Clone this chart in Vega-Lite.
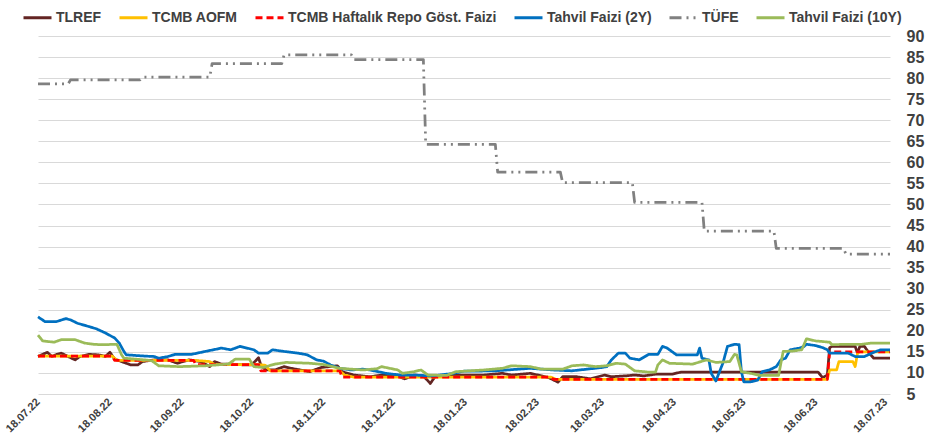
{
  "$schema": "https://vega.github.io/schema/vega-lite/v6.json",
  "width": 852,
  "height": 358,
  "autosize": {"type": "none"},
  "padding": {"left": 38, "top": 36, "right": 38, "bottom": 44},
  "background": "white",
  "config": {
    "view": {"stroke": null},
    "font": "Liberation Sans"
  },
  "datasets": {
    "seriler": [
      {"tarih": "2022-07-18", "seri": "TLREF", "deger": 13.9},
      {"tarih": "2022-07-22", "seri": "TLREF", "deger": 14.9},
      {"tarih": "2022-07-24", "seri": "TLREF", "deger": 13.9},
      {"tarih": "2022-07-26", "seri": "TLREF", "deger": 14.4},
      {"tarih": "2022-07-28", "seri": "TLREF", "deger": 14.7},
      {"tarih": "2022-07-31", "seri": "TLREF", "deger": 13.9},
      {"tarih": "2022-08-03", "seri": "TLREF", "deger": 13.1},
      {"tarih": "2022-08-05", "seri": "TLREF", "deger": 13.9},
      {"tarih": "2022-08-09", "seri": "TLREF", "deger": 14.4},
      {"tarih": "2022-08-13", "seri": "TLREF", "deger": 14.3},
      {"tarih": "2022-08-16", "seri": "TLREF", "deger": 13.9},
      {"tarih": "2022-08-18", "seri": "TLREF", "deger": 14.9},
      {"tarih": "2022-08-20", "seri": "TLREF", "deger": 13.3},
      {"tarih": "2022-08-24", "seri": "TLREF", "deger": 12.5},
      {"tarih": "2022-08-27", "seri": "TLREF", "deger": 11.9},
      {"tarih": "2022-08-30", "seri": "TLREF", "deger": 11.9},
      {"tarih": "2022-09-01", "seri": "TLREF", "deger": 12.7},
      {"tarih": "2022-09-06", "seri": "TLREF", "deger": 13.1},
      {"tarih": "2022-09-12", "seri": "TLREF", "deger": 13.1},
      {"tarih": "2022-09-16", "seri": "TLREF", "deger": 12.3},
      {"tarih": "2022-09-21", "seri": "TLREF", "deger": 13.1},
      {"tarih": "2022-09-26", "seri": "TLREF", "deger": 12.7},
      {"tarih": "2022-09-30", "seri": "TLREF", "deger": 11.5},
      {"tarih": "2022-10-02", "seri": "TLREF", "deger": 12.7},
      {"tarih": "2022-10-05", "seri": "TLREF", "deger": 12.1},
      {"tarih": "2022-10-09", "seri": "TLREF", "deger": 12.1},
      {"tarih": "2022-10-15", "seri": "TLREF", "deger": 11.9},
      {"tarih": "2022-10-18", "seri": "TLREF", "deger": 11.9},
      {"tarih": "2022-10-21", "seri": "TLREF", "deger": 13.6},
      {"tarih": "2022-10-22", "seri": "TLREF", "deger": 11.9},
      {"tarih": "2022-10-24", "seri": "TLREF", "deger": 10.7},
      {"tarih": "2022-10-28", "seri": "TLREF", "deger": 10.7},
      {"tarih": "2022-11-01", "seri": "TLREF", "deger": 11.5},
      {"tarih": "2022-11-04", "seri": "TLREF", "deger": 11.1},
      {"tarih": "2022-11-08", "seri": "TLREF", "deger": 10.7},
      {"tarih": "2022-11-12", "seri": "TLREF", "deger": 10.3},
      {"tarih": "2022-11-17", "seri": "TLREF", "deger": 11.3},
      {"tarih": "2022-11-24", "seri": "TLREF", "deger": 11.7},
      {"tarih": "2022-11-26", "seri": "TLREF", "deger": 10.3},
      {"tarih": "2022-12-01", "seri": "TLREF", "deger": 9.5},
      {"tarih": "2022-12-08", "seri": "TLREF", "deger": 9.1},
      {"tarih": "2022-12-13", "seri": "TLREF", "deger": 9.5},
      {"tarih": "2022-12-19", "seri": "TLREF", "deger": 9.4},
      {"tarih": "2022-12-23", "seri": "TLREF", "deger": 8.6},
      {"tarih": "2022-12-27", "seri": "TLREF", "deger": 9.5},
      {"tarih": "2022-12-31", "seri": "TLREF", "deger": 9.3},
      {"tarih": "2023-01-03", "seri": "TLREF", "deger": 7.5},
      {"tarih": "2023-01-05", "seri": "TLREF", "deger": 9.1},
      {"tarih": "2023-01-10", "seri": "TLREF", "deger": 9.4},
      {"tarih": "2023-01-16", "seri": "TLREF", "deger": 9.5},
      {"tarih": "2023-01-26", "seri": "TLREF", "deger": 9.5},
      {"tarih": "2023-02-03", "seri": "TLREF", "deger": 9.9},
      {"tarih": "2023-02-07", "seri": "TLREF", "deger": 9.5},
      {"tarih": "2023-02-15", "seri": "TLREF", "deger": 9.9},
      {"tarih": "2023-02-20", "seri": "TLREF", "deger": 9.3},
      {"tarih": "2023-02-23", "seri": "TLREF", "deger": 8.9},
      {"tarih": "2023-02-27", "seri": "TLREF", "deger": 7.8},
      {"tarih": "2023-03-01", "seri": "TLREF", "deger": 9.1},
      {"tarih": "2023-03-07", "seri": "TLREF", "deger": 9.1},
      {"tarih": "2023-03-13", "seri": "TLREF", "deger": 8.6},
      {"tarih": "2023-03-19", "seri": "TLREF", "deger": 9.5},
      {"tarih": "2023-03-22", "seri": "TLREF", "deger": 9.1},
      {"tarih": "2023-03-28", "seri": "TLREF", "deger": 9.3},
      {"tarih": "2023-04-01", "seri": "TLREF", "deger": 9.5},
      {"tarih": "2023-04-05", "seri": "TLREF", "deger": 9.3},
      {"tarih": "2023-04-10", "seri": "TLREF", "deger": 9.7},
      {"tarih": "2023-04-17", "seri": "TLREF", "deger": 9.7},
      {"tarih": "2023-04-21", "seri": "TLREF", "deger": 10.2},
      {"tarih": "2023-06-19", "seri": "TLREF", "deger": 10.2},
      {"tarih": "2023-06-21", "seri": "TLREF", "deger": 8.9},
      {"tarih": "2023-06-23", "seri": "TLREF", "deger": 9.5},
      {"tarih": "2023-06-24", "seri": "TLREF", "deger": 16.0},
      {"tarih": "2023-06-25", "seri": "TLREF", "deger": 16.3},
      {"tarih": "2023-07-05", "seri": "TLREF", "deger": 16.3},
      {"tarih": "2023-07-06", "seri": "TLREF", "deger": 14.7},
      {"tarih": "2023-07-07", "seri": "TLREF", "deger": 16.3},
      {"tarih": "2023-07-09", "seri": "TLREF", "deger": 16.3},
      {"tarih": "2023-07-11", "seri": "TLREF", "deger": 14.7},
      {"tarih": "2023-07-13", "seri": "TLREF", "deger": 13.5},
      {"tarih": "2023-07-20", "seri": "TLREF", "deger": 13.5},

      {"tarih": "2022-07-18", "seri": "TCMB AOFM", "deger": 14},
      {"tarih": "2022-08-19", "seri": "TCMB AOFM", "deger": 14},
      {"tarih": "2022-08-21", "seri": "TCMB AOFM", "deger": 13},
      {"tarih": "2022-09-23", "seri": "TCMB AOFM", "deger": 13},
      {"tarih": "2022-09-30", "seri": "TCMB AOFM", "deger": 12.7},
      {"tarih": "2022-10-02", "seri": "TCMB AOFM", "deger": 12},
      {"tarih": "2022-10-21", "seri": "TCMB AOFM", "deger": 12},
      {"tarih": "2022-10-24", "seri": "TCMB AOFM", "deger": 11.8},
      {"tarih": "2022-10-26", "seri": "TCMB AOFM", "deger": 10.5},
      {"tarih": "2022-11-25", "seri": "TCMB AOFM", "deger": 10.5},
      {"tarih": "2022-11-27", "seri": "TCMB AOFM", "deger": 9.5},
      {"tarih": "2022-12-01", "seri": "TCMB AOFM", "deger": 9},
      {"tarih": "2023-02-24", "seri": "TCMB AOFM", "deger": 9},
      {"tarih": "2023-02-26", "seri": "TCMB AOFM", "deger": 8.5},
      {"tarih": "2023-06-23", "seri": "TCMB AOFM", "deger": 8.5},
      {"tarih": "2023-06-24", "seri": "TCMB AOFM", "deger": 10.7},
      {"tarih": "2023-06-27", "seri": "TCMB AOFM", "deger": 10.7},
      {"tarih": "2023-06-28", "seri": "TCMB AOFM", "deger": 12.7},
      {"tarih": "2023-07-04", "seri": "TCMB AOFM", "deger": 12.7},
      {"tarih": "2023-07-05", "seri": "TCMB AOFM", "deger": 11.5},
      {"tarih": "2023-07-06", "seri": "TCMB AOFM", "deger": 14.7},
      {"tarih": "2023-07-07", "seri": "TCMB AOFM", "deger": 15},
      {"tarih": "2023-07-20", "seri": "TCMB AOFM", "deger": 15},

      {"tarih": "2022-07-18", "seri": "TCMB Haftalık Repo Göst. Faizi", "deger": 14},
      {"tarih": "2022-08-19", "seri": "TCMB Haftalık Repo Göst. Faizi", "deger": 14},
      {"tarih": "2022-08-20", "seri": "TCMB Haftalık Repo Göst. Faizi", "deger": 13},
      {"tarih": "2022-09-23", "seri": "TCMB Haftalık Repo Göst. Faizi", "deger": 13},
      {"tarih": "2022-09-24", "seri": "TCMB Haftalık Repo Göst. Faizi", "deger": 12},
      {"tarih": "2022-10-21", "seri": "TCMB Haftalık Repo Göst. Faizi", "deger": 12},
      {"tarih": "2022-10-22", "seri": "TCMB Haftalık Repo Göst. Faizi", "deger": 10.5},
      {"tarih": "2022-11-25", "seri": "TCMB Haftalık Repo Göst. Faizi", "deger": 10.5},
      {"tarih": "2022-11-26", "seri": "TCMB Haftalık Repo Göst. Faizi", "deger": 9},
      {"tarih": "2023-02-24", "seri": "TCMB Haftalık Repo Göst. Faizi", "deger": 9},
      {"tarih": "2023-02-25", "seri": "TCMB Haftalık Repo Göst. Faizi", "deger": 8.5},
      {"tarih": "2023-06-23", "seri": "TCMB Haftalık Repo Göst. Faizi", "deger": 8.5},
      {"tarih": "2023-06-24", "seri": "TCMB Haftalık Repo Göst. Faizi", "deger": 15},
      {"tarih": "2023-07-20", "seri": "TCMB Haftalık Repo Göst. Faizi", "deger": 15},

      {"tarih": "2022-07-18", "seri": "Tahvil Faizi (2Y)", "deger": 23.3},
      {"tarih": "2022-07-21", "seri": "Tahvil Faizi (2Y)", "deger": 22.2},
      {"tarih": "2022-07-26", "seri": "Tahvil Faizi (2Y)", "deger": 22.2},
      {"tarih": "2022-07-30", "seri": "Tahvil Faizi (2Y)", "deger": 22.9},
      {"tarih": "2022-08-01", "seri": "Tahvil Faizi (2Y)", "deger": 22.6},
      {"tarih": "2022-08-04", "seri": "Tahvil Faizi (2Y)", "deger": 21.8},
      {"tarih": "2022-08-09", "seri": "Tahvil Faizi (2Y)", "deger": 21.0},
      {"tarih": "2022-08-12", "seri": "Tahvil Faizi (2Y)", "deger": 20.5},
      {"tarih": "2022-08-16", "seri": "Tahvil Faizi (2Y)", "deger": 19.5},
      {"tarih": "2022-08-20", "seri": "Tahvil Faizi (2Y)", "deger": 18.3},
      {"tarih": "2022-08-22", "seri": "Tahvil Faizi (2Y)", "deger": 17.1},
      {"tarih": "2022-08-24", "seri": "Tahvil Faizi (2Y)", "deger": 15.1},
      {"tarih": "2022-08-25", "seri": "Tahvil Faizi (2Y)", "deger": 14.3},
      {"tarih": "2022-09-02", "seri": "Tahvil Faizi (2Y)", "deger": 14.0},
      {"tarih": "2022-09-06", "seri": "Tahvil Faizi (2Y)", "deger": 13.9},
      {"tarih": "2022-09-08", "seri": "Tahvil Faizi (2Y)", "deger": 13.5},
      {"tarih": "2022-09-12", "seri": "Tahvil Faizi (2Y)", "deger": 13.9},
      {"tarih": "2022-09-15", "seri": "Tahvil Faizi (2Y)", "deger": 14.4},
      {"tarih": "2022-09-22", "seri": "Tahvil Faizi (2Y)", "deger": 14.4},
      {"tarih": "2022-09-28", "seri": "Tahvil Faizi (2Y)", "deger": 15.1},
      {"tarih": "2022-10-05", "seri": "Tahvil Faizi (2Y)", "deger": 15.9},
      {"tarih": "2022-10-09", "seri": "Tahvil Faizi (2Y)", "deger": 15.5},
      {"tarih": "2022-10-13", "seri": "Tahvil Faizi (2Y)", "deger": 16.3},
      {"tarih": "2022-10-19", "seri": "Tahvil Faizi (2Y)", "deger": 15.5},
      {"tarih": "2022-10-21", "seri": "Tahvil Faizi (2Y)", "deger": 14.7},
      {"tarih": "2022-10-25", "seri": "Tahvil Faizi (2Y)", "deger": 14.7},
      {"tarih": "2022-10-27", "seri": "Tahvil Faizi (2Y)", "deger": 15.5},
      {"tarih": "2022-11-01", "seri": "Tahvil Faizi (2Y)", "deger": 15.1},
      {"tarih": "2022-11-07", "seri": "Tahvil Faizi (2Y)", "deger": 14.7},
      {"tarih": "2022-11-11", "seri": "Tahvil Faizi (2Y)", "deger": 14.3},
      {"tarih": "2022-11-15", "seri": "Tahvil Faizi (2Y)", "deger": 13.1},
      {"tarih": "2022-11-18", "seri": "Tahvil Faizi (2Y)", "deger": 12.8},
      {"tarih": "2022-11-21", "seri": "Tahvil Faizi (2Y)", "deger": 11.9},
      {"tarih": "2022-11-25", "seri": "Tahvil Faizi (2Y)", "deger": 11.1},
      {"tarih": "2022-11-30", "seri": "Tahvil Faizi (2Y)", "deger": 10.7},
      {"tarih": "2022-12-05", "seri": "Tahvil Faizi (2Y)", "deger": 10.9},
      {"tarih": "2022-12-08", "seri": "Tahvil Faizi (2Y)", "deger": 10.7},
      {"tarih": "2022-12-15", "seri": "Tahvil Faizi (2Y)", "deger": 9.9},
      {"tarih": "2022-12-21", "seri": "Tahvil Faizi (2Y)", "deger": 9.5},
      {"tarih": "2022-12-27", "seri": "Tahvil Faizi (2Y)", "deger": 9.5},
      {"tarih": "2023-01-03", "seri": "Tahvil Faizi (2Y)", "deger": 9.3},
      {"tarih": "2023-01-07", "seri": "Tahvil Faizi (2Y)", "deger": 9.5},
      {"tarih": "2023-01-13", "seri": "Tahvil Faizi (2Y)", "deger": 9.9},
      {"tarih": "2023-01-17", "seri": "Tahvil Faizi (2Y)", "deger": 10.4},
      {"tarih": "2023-01-31", "seri": "Tahvil Faizi (2Y)", "deger": 10.5},
      {"tarih": "2023-02-15", "seri": "Tahvil Faizi (2Y)", "deger": 11.1},
      {"tarih": "2023-02-25", "seri": "Tahvil Faizi (2Y)", "deger": 10.7},
      {"tarih": "2023-03-05", "seri": "Tahvil Faizi (2Y)", "deger": 10.5},
      {"tarih": "2023-03-18", "seri": "Tahvil Faizi (2Y)", "deger": 11.3},
      {"tarih": "2023-03-20", "seri": "Tahvil Faizi (2Y)", "deger": 11.5},
      {"tarih": "2023-03-22", "seri": "Tahvil Faizi (2Y)", "deger": 13.1},
      {"tarih": "2023-03-25", "seri": "Tahvil Faizi (2Y)", "deger": 14.7},
      {"tarih": "2023-03-28", "seri": "Tahvil Faizi (2Y)", "deger": 14.7},
      {"tarih": "2023-03-30", "seri": "Tahvil Faizi (2Y)", "deger": 13.5},
      {"tarih": "2023-04-03", "seri": "Tahvil Faizi (2Y)", "deger": 13.1},
      {"tarih": "2023-04-07", "seri": "Tahvil Faizi (2Y)", "deger": 14.4},
      {"tarih": "2023-04-11", "seri": "Tahvil Faizi (2Y)", "deger": 14.4},
      {"tarih": "2023-04-13", "seri": "Tahvil Faizi (2Y)", "deger": 16.3},
      {"tarih": "2023-04-15", "seri": "Tahvil Faizi (2Y)", "deger": 15.9},
      {"tarih": "2023-04-19", "seri": "Tahvil Faizi (2Y)", "deger": 14.3},
      {"tarih": "2023-04-28", "seri": "Tahvil Faizi (2Y)", "deger": 14.3},
      {"tarih": "2023-04-29", "seri": "Tahvil Faizi (2Y)", "deger": 15.9},
      {"tarih": "2023-04-30", "seri": "Tahvil Faizi (2Y)", "deger": 13.5},
      {"tarih": "2023-05-03", "seri": "Tahvil Faizi (2Y)", "deger": 13.1},
      {"tarih": "2023-05-04", "seri": "Tahvil Faizi (2Y)", "deger": 9.9},
      {"tarih": "2023-05-06", "seri": "Tahvil Faizi (2Y)", "deger": 8.1},
      {"tarih": "2023-05-07", "seri": "Tahvil Faizi (2Y)", "deger": 9.5},
      {"tarih": "2023-05-09", "seri": "Tahvil Faizi (2Y)", "deger": 12.3},
      {"tarih": "2023-05-11", "seri": "Tahvil Faizi (2Y)", "deger": 16.3},
      {"tarih": "2023-05-14", "seri": "Tahvil Faizi (2Y)", "deger": 16.8},
      {"tarih": "2023-05-16", "seri": "Tahvil Faizi (2Y)", "deger": 16.7},
      {"tarih": "2023-05-17", "seri": "Tahvil Faizi (2Y)", "deger": 10.3},
      {"tarih": "2023-05-18", "seri": "Tahvil Faizi (2Y)", "deger": 7.9},
      {"tarih": "2023-05-21", "seri": "Tahvil Faizi (2Y)", "deger": 7.9},
      {"tarih": "2023-05-24", "seri": "Tahvil Faizi (2Y)", "deger": 8.3},
      {"tarih": "2023-05-26", "seri": "Tahvil Faizi (2Y)", "deger": 10.3},
      {"tarih": "2023-05-29", "seri": "Tahvil Faizi (2Y)", "deger": 10.7},
      {"tarih": "2023-06-01", "seri": "Tahvil Faizi (2Y)", "deger": 11.5},
      {"tarih": "2023-06-03", "seri": "Tahvil Faizi (2Y)", "deger": 13.1},
      {"tarih": "2023-06-05", "seri": "Tahvil Faizi (2Y)", "deger": 13.5},
      {"tarih": "2023-06-07", "seri": "Tahvil Faizi (2Y)", "deger": 15.5},
      {"tarih": "2023-06-11", "seri": "Tahvil Faizi (2Y)", "deger": 15.9},
      {"tarih": "2023-06-13", "seri": "Tahvil Faizi (2Y)", "deger": 16.3},
      {"tarih": "2023-06-14", "seri": "Tahvil Faizi (2Y)", "deger": 16.8},
      {"tarih": "2023-06-18", "seri": "Tahvil Faizi (2Y)", "deger": 16.5},
      {"tarih": "2023-06-21", "seri": "Tahvil Faizi (2Y)", "deger": 16.0},
      {"tarih": "2023-06-23", "seri": "Tahvil Faizi (2Y)", "deger": 15.5},
      {"tarih": "2023-06-24", "seri": "Tahvil Faizi (2Y)", "deger": 14.7},
      {"tarih": "2023-07-02", "seri": "Tahvil Faizi (2Y)", "deger": 14.7},
      {"tarih": "2023-07-05", "seri": "Tahvil Faizi (2Y)", "deger": 13.9},
      {"tarih": "2023-07-09", "seri": "Tahvil Faizi (2Y)", "deger": 13.9},
      {"tarih": "2023-07-13", "seri": "Tahvil Faizi (2Y)", "deger": 14.9},
      {"tarih": "2023-07-16", "seri": "Tahvil Faizi (2Y)", "deger": 15.5},
      {"tarih": "2023-07-20", "seri": "Tahvil Faizi (2Y)", "deger": 15.5},

      {"tarih": "2022-07-18", "seri": "TÜFE", "deger": 78.62},
      {"tarih": "2022-07-31", "seri": "TÜFE", "deger": 78.62},
      {"tarih": "2022-08-01", "seri": "TÜFE", "deger": 79.6},
      {"tarih": "2022-08-31", "seri": "TÜFE", "deger": 79.6},
      {"tarih": "2022-09-01", "seri": "TÜFE", "deger": 80.21},
      {"tarih": "2022-09-30", "seri": "TÜFE", "deger": 80.21},
      {"tarih": "2022-10-01", "seri": "TÜFE", "deger": 83.45},
      {"tarih": "2022-10-31", "seri": "TÜFE", "deger": 83.45},
      {"tarih": "2022-11-01", "seri": "TÜFE", "deger": 85.51},
      {"tarih": "2022-11-30", "seri": "TÜFE", "deger": 85.51},
      {"tarih": "2022-12-01", "seri": "TÜFE", "deger": 84.39},
      {"tarih": "2022-12-31", "seri": "TÜFE", "deger": 84.39},
      {"tarih": "2023-01-01", "seri": "TÜFE", "deger": 64.27},
      {"tarih": "2023-01-31", "seri": "TÜFE", "deger": 64.27},
      {"tarih": "2023-02-01", "seri": "TÜFE", "deger": 57.68},
      {"tarih": "2023-02-28", "seri": "TÜFE", "deger": 57.68},
      {"tarih": "2023-03-01", "seri": "TÜFE", "deger": 55.18},
      {"tarih": "2023-03-31", "seri": "TÜFE", "deger": 55.18},
      {"tarih": "2023-04-01", "seri": "TÜFE", "deger": 50.51},
      {"tarih": "2023-04-30", "seri": "TÜFE", "deger": 50.51},
      {"tarih": "2023-05-01", "seri": "TÜFE", "deger": 43.68},
      {"tarih": "2023-05-31", "seri": "TÜFE", "deger": 43.68},
      {"tarih": "2023-06-01", "seri": "TÜFE", "deger": 39.59},
      {"tarih": "2023-06-30", "seri": "TÜFE", "deger": 39.59},
      {"tarih": "2023-07-01", "seri": "TÜFE", "deger": 38.21},
      {"tarih": "2023-07-20", "seri": "TÜFE", "deger": 38.21},

      {"tarih": "2022-07-18", "seri": "Tahvil Faizi (10Y)", "deger": 19.0},
      {"tarih": "2022-07-20", "seri": "Tahvil Faizi (10Y)", "deger": 17.6},
      {"tarih": "2022-07-25", "seri": "Tahvil Faizi (10Y)", "deger": 17.3},
      {"tarih": "2022-07-28", "seri": "Tahvil Faizi (10Y)", "deger": 17.9},
      {"tarih": "2022-08-03", "seri": "Tahvil Faizi (10Y)", "deger": 17.9},
      {"tarih": "2022-08-07", "seri": "Tahvil Faizi (10Y)", "deger": 17.1},
      {"tarih": "2022-08-11", "seri": "Tahvil Faizi (10Y)", "deger": 16.8},
      {"tarih": "2022-08-14", "seri": "Tahvil Faizi (10Y)", "deger": 16.7},
      {"tarih": "2022-08-21", "seri": "Tahvil Faizi (10Y)", "deger": 16.8},
      {"tarih": "2022-08-23", "seri": "Tahvil Faizi (10Y)", "deger": 14.3},
      {"tarih": "2022-08-24", "seri": "Tahvil Faizi (10Y)", "deger": 13.5},
      {"tarih": "2022-09-02", "seri": "Tahvil Faizi (10Y)", "deger": 13.1},
      {"tarih": "2022-09-05", "seri": "Tahvil Faizi (10Y)", "deger": 12.9},
      {"tarih": "2022-09-08", "seri": "Tahvil Faizi (10Y)", "deger": 11.7},
      {"tarih": "2022-09-17", "seri": "Tahvil Faizi (10Y)", "deger": 11.5},
      {"tarih": "2022-09-28", "seri": "Tahvil Faizi (10Y)", "deger": 11.7},
      {"tarih": "2022-10-08", "seri": "Tahvil Faizi (10Y)", "deger": 12.1},
      {"tarih": "2022-10-11", "seri": "Tahvil Faizi (10Y)", "deger": 13.3},
      {"tarih": "2022-10-17", "seri": "Tahvil Faizi (10Y)", "deger": 13.3},
      {"tarih": "2022-10-19", "seri": "Tahvil Faizi (10Y)", "deger": 11.5},
      {"tarih": "2022-10-23", "seri": "Tahvil Faizi (10Y)", "deger": 11.3},
      {"tarih": "2022-10-28", "seri": "Tahvil Faizi (10Y)", "deger": 12.1},
      {"tarih": "2022-11-02", "seri": "Tahvil Faizi (10Y)", "deger": 12.5},
      {"tarih": "2022-11-12", "seri": "Tahvil Faizi (10Y)", "deger": 12.3},
      {"tarih": "2022-11-18", "seri": "Tahvil Faizi (10Y)", "deger": 12.0},
      {"tarih": "2022-11-25", "seri": "Tahvil Faizi (10Y)", "deger": 11.1},
      {"tarih": "2022-12-05", "seri": "Tahvil Faizi (10Y)", "deger": 10.7},
      {"tarih": "2022-12-11", "seri": "Tahvil Faizi (10Y)", "deger": 11.0},
      {"tarih": "2022-12-13", "seri": "Tahvil Faizi (10Y)", "deger": 11.5},
      {"tarih": "2022-12-20", "seri": "Tahvil Faizi (10Y)", "deger": 10.7},
      {"tarih": "2022-12-22", "seri": "Tahvil Faizi (10Y)", "deger": 9.9},
      {"tarih": "2022-12-27", "seri": "Tahvil Faizi (10Y)", "deger": 10.3},
      {"tarih": "2022-12-30", "seri": "Tahvil Faizi (10Y)", "deger": 10.7},
      {"tarih": "2023-01-02", "seri": "Tahvil Faizi (10Y)", "deger": 9.5},
      {"tarih": "2023-01-10", "seri": "Tahvil Faizi (10Y)", "deger": 9.4},
      {"tarih": "2023-01-14", "seri": "Tahvil Faizi (10Y)", "deger": 10.3},
      {"tarih": "2023-01-26", "seri": "Tahvil Faizi (10Y)", "deger": 10.7},
      {"tarih": "2023-02-03", "seri": "Tahvil Faizi (10Y)", "deger": 11.1},
      {"tarih": "2023-02-07", "seri": "Tahvil Faizi (10Y)", "deger": 11.7},
      {"tarih": "2023-02-15", "seri": "Tahvil Faizi (10Y)", "deger": 11.5},
      {"tarih": "2023-02-20", "seri": "Tahvil Faizi (10Y)", "deger": 10.9},
      {"tarih": "2023-03-01", "seri": "Tahvil Faizi (10Y)", "deger": 10.9},
      {"tarih": "2023-03-05", "seri": "Tahvil Faizi (10Y)", "deger": 11.7},
      {"tarih": "2023-03-10", "seri": "Tahvil Faizi (10Y)", "deger": 11.9},
      {"tarih": "2023-03-15", "seri": "Tahvil Faizi (10Y)", "deger": 11.5},
      {"tarih": "2023-03-20", "seri": "Tahvil Faizi (10Y)", "deger": 11.7},
      {"tarih": "2023-03-24", "seri": "Tahvil Faizi (10Y)", "deger": 12.3},
      {"tarih": "2023-03-28", "seri": "Tahvil Faizi (10Y)", "deger": 12.1},
      {"tarih": "2023-04-01", "seri": "Tahvil Faizi (10Y)", "deger": 10.5},
      {"tarih": "2023-04-07", "seri": "Tahvil Faizi (10Y)", "deger": 10.2},
      {"tarih": "2023-04-10", "seri": "Tahvil Faizi (10Y)", "deger": 10.2},
      {"tarih": "2023-04-11", "seri": "Tahvil Faizi (10Y)", "deger": 11.9},
      {"tarih": "2023-04-13", "seri": "Tahvil Faizi (10Y)", "deger": 13.1},
      {"tarih": "2023-04-16", "seri": "Tahvil Faizi (10Y)", "deger": 12.3},
      {"tarih": "2023-04-26", "seri": "Tahvil Faizi (10Y)", "deger": 12.1},
      {"tarih": "2023-05-02", "seri": "Tahvil Faizi (10Y)", "deger": 13.1},
      {"tarih": "2023-05-06", "seri": "Tahvil Faizi (10Y)", "deger": 12.5},
      {"tarih": "2023-05-12", "seri": "Tahvil Faizi (10Y)", "deger": 12.7},
      {"tarih": "2023-05-14", "seri": "Tahvil Faizi (10Y)", "deger": 14.4},
      {"tarih": "2023-05-15", "seri": "Tahvil Faizi (10Y)", "deger": 14.3},
      {"tarih": "2023-05-17", "seri": "Tahvil Faizi (10Y)", "deger": 10.3},
      {"tarih": "2023-05-21", "seri": "Tahvil Faizi (10Y)", "deger": 9.9},
      {"tarih": "2023-05-25", "seri": "Tahvil Faizi (10Y)", "deger": 9.4},
      {"tarih": "2023-06-02", "seri": "Tahvil Faizi (10Y)", "deger": 9.4},
      {"tarih": "2023-06-03", "seri": "Tahvil Faizi (10Y)", "deger": 12.3},
      {"tarih": "2023-06-04", "seri": "Tahvil Faizi (10Y)", "deger": 15.1},
      {"tarih": "2023-06-08", "seri": "Tahvil Faizi (10Y)", "deger": 15.2},
      {"tarih": "2023-06-12", "seri": "Tahvil Faizi (10Y)", "deger": 15.5},
      {"tarih": "2023-06-14", "seri": "Tahvil Faizi (10Y)", "deger": 18.1},
      {"tarih": "2023-06-18", "seri": "Tahvil Faizi (10Y)", "deger": 17.6},
      {"tarih": "2023-06-24", "seri": "Tahvil Faizi (10Y)", "deger": 17.3},
      {"tarih": "2023-06-25", "seri": "Tahvil Faizi (10Y)", "deger": 16.7},
      {"tarih": "2023-07-01", "seri": "Tahvil Faizi (10Y)", "deger": 16.8},
      {"tarih": "2023-07-08", "seri": "Tahvil Faizi (10Y)", "deger": 16.8},
      {"tarih": "2023-07-12", "seri": "Tahvil Faizi (10Y)", "deger": 17.1},
      {"tarih": "2023-07-20", "seri": "Tahvil Faizi (10Y)", "deger": 17.1}
    ]
  },
  "data": {"name": "seriler"},
  "mark": {"type": "line", "strokeWidth": 2.75, "strokeJoin": "round"},
  "encoding": {
    "x": {
      "field": "tarih",
      "type": "temporal",
      "scale": {
        "type": "utc",
        "nice": false,
        "domain": [
          {"year": 2022, "month": 7, "date": 18, "utc": true},
          {"year": 2023, "month": 7, "date": 20, "utc": true}
        ]
      },
      "axis": {
        "title": null,
        "grid": false,
        "domain": false,
        "ticks": false,
        "values": [
          {"year": 2022, "month": 7, "date": 18, "utc": true},
          {"year": 2022, "month": 8, "date": 18, "utc": true},
          {"year": 2022, "month": 9, "date": 18, "utc": true},
          {"year": 2022, "month": 10, "date": 18, "utc": true},
          {"year": 2022, "month": 11, "date": 18, "utc": true},
          {"year": 2022, "month": 12, "date": 18, "utc": true},
          {"year": 2023, "month": 1, "date": 18, "utc": true},
          {"year": 2023, "month": 2, "date": 18, "utc": true},
          {"year": 2023, "month": 3, "date": 18, "utc": true},
          {"year": 2023, "month": 4, "date": 18, "utc": true},
          {"year": 2023, "month": 5, "date": 18, "utc": true},
          {"year": 2023, "month": 6, "date": 18, "utc": true},
          {"year": 2023, "month": 7, "date": 18, "utc": true}
        ],
        "labelExpr": "utcFormat(datum.value, '%d.%m.%y')",
        "labelAngle": -45,
        "labelAlign": "right",
        "labelBaseline": "middle",
        "labelPadding": 6,
        "labelFont": "Liberation Sans",
        "labelFontSize": 11,
        "labelFontWeight": "bold",
        "labelColor": "#404040",
        "labelOverlap": false,
        "labelFlush": false
      }
    },
    "y": {
      "field": "deger",
      "type": "quantitative",
      "scale": {"domain": [5, 90], "nice": false, "zero": false},
      "axis": {
        "title": null,
        "orient": "right",
        "values": [5, 10, 15, 20, 25, 30, 35, 40, 45, 50, 55, 60, 65, 70, 75, 80, 85, 90],
        "domain": false,
        "ticks": false,
        "grid": true,
        "gridColor": "#d9d9d9",
        "gridWidth": 1,
        "labelAlign": "left",
        "labelPadding": 16,
        "labelFont": "Liberation Sans",
        "labelFontSize": 16,
        "labelFontWeight": "bold",
        "labelColor": "#404040",
        "labelFlush": false
      }
    },
    "color": {
      "field": "seri",
      "type": "nominal",
      "scale": {
        "domain": ["TLREF", "TCMB AOFM", "TCMB Haftalık Repo Göst. Faizi", "Tahvil Faizi (2Y)", "TÜFE", "Tahvil Faizi (10Y)"],
        "range": ["#632523", "#FFC000", "#FF0000", "#0070C0", "#808080", "#9BBB59"]
      },
      "legend": {
        "title": null,
        "orient": "none",
        "legendX": -16,
        "legendY": -34,
        "direction": "horizontal",
        "symbolType": "stroke",
        "symbolSize": 784,
        "symbolStrokeWidth": 3,
        "labelFont": "Liberation Sans",
        "labelFontSize": 14,
        "labelFontWeight": "bold",
        "labelColor": "#404040",
        "labelOffset": 3,
        "columnPadding": 11,
        "labelLimit": 300
      }
    },
    "strokeDash": {
      "field": "seri",
      "type": "nominal",
      "scale": {
        "domain": ["TLREF", "TCMB AOFM", "TCMB Haftalık Repo Göst. Faizi", "Tahvil Faizi (2Y)", "TÜFE", "Tahvil Faizi (10Y)"],
        "range": [[1, 0], [1, 0], [7, 4], [1, 0], [12, 5, 2, 5, 2, 5], [1, 0]]
      },
      "legend": null
    }
  }
}
